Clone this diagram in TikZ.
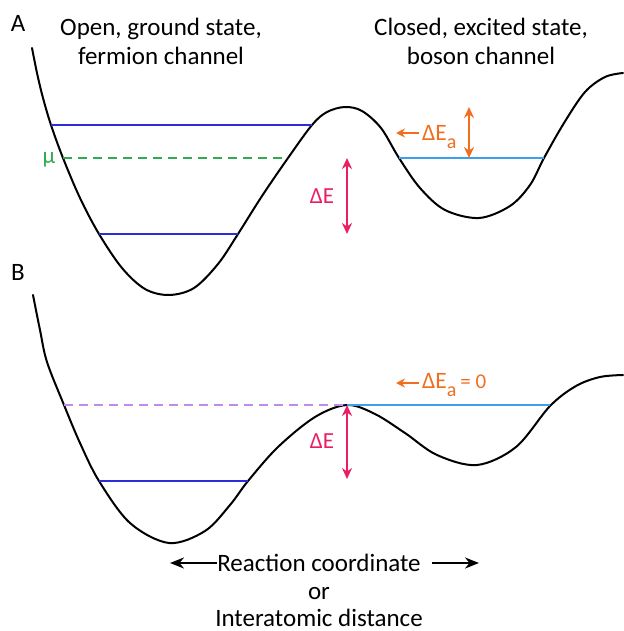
\documentclass[tikz,border=0pt]{standalone}
\usepackage{fontspec}
\setmainfont{Carlito}
\usetikzlibrary{arrows.meta}
\definecolor{lvblue}{RGB}{45,45,215}
\definecolor{ltblue}{RGB}{60,160,235}
\definecolor{mugreen}{RGB}{50,170,80}
\definecolor{eorange}{RGB}{240,110,30}
\definecolor{epink}{RGB}{235,30,100}
\definecolor{epurple}{RGB}{190,140,235}
\begin{document}
\begin{tikzpicture}[x=1pt,y=-1pt,
  curve/.style={line width=2pt, black, line cap=round},
  level/.style={line width=2pt},
  dlevel/.style={line width=1.8pt, dash pattern=on 9pt off 6pt},
  big/.style={font=\fontsize{25}{29}\selectfont, inner sep=0pt, anchor=base},
  mid/.style={font=\fontsize{23}{26}\selectfont, inner sep=0pt, anchor=base},
  small/.style={font=\fontsize{23.5}{26}\selectfont, inner sep=0pt, anchor=base west},
  dbl/.style={line width=2pt, {Stealth[length=11pt,width=10pt]}-{Stealth[length=11pt,width=10pt]}},
  sgl/.style={line width=2pt, -{Stealth[length=9pt,width=9pt]}},
  blk/.style={line width=2.2pt, -{Stealth[length=14pt,width=11pt]}}]
\useasboundingbox (0,0) rectangle (623,631);
% ---------- panel A ----------
\draw[curve] plot[smooth, tension=0.55] coordinates {
 (32,48) (37,73) (43,98) (51,125) (63,158) (80,198) (99,234) (122,268) (145,289) (169,295)
 (194,288) (218,264) (238,234) (262,196) (288,158) (312,125) (327,112) (345,107)
 (362,111) (381,128) (399,158) (420,188) (445,210) (479,218) (510,206) (530,185)
 (544,158) (564,123) (585,92) (605,77) (623,73)};
\node[big] (labA) at (18,32) {A};
\node[big] (open1) at (161,36) {Open, ground state,};
\node[big] (open2) at (161,65) {fermion channel};
\node[big] (closed1) at (481,36) {Closed, excited state,};
\node[big] (closed2) at (481,65) {boson channel};
\coordinate (a1l) at (51,125); \coordinate (a1r) at (312,125);
\coordinate (a0l) at (99,234); \coordinate (a0r) at (238,234);
\coordinate (mul) at (63,158); \coordinate (mur) at (288,158);
\coordinate (bl) at (399,158); \coordinate (br) at (544,158);
\draw[level, lvblue] (a1l) -- (a1r);
\draw[level, lvblue] (a0l) -- (a0r);
\draw[dlevel, mugreen] (mul) -- (mur);
\node[font=\fontsize{23}{26}\selectfont, inner sep=0pt, text=mugreen] (mu) at (49,160) {μ};
\draw[level, ltblue] (bl) -- (br);
\coordinate (dEt) at (347,158); \coordinate (dEb) at (347,234);
\draw[dbl, epink] (dEt) -- (dEb);
\node[mid, text=epink] (dE) at (322,203) {ΔE};
\coordinate (eat) at (469,107); \coordinate (eab) at (469,158);
\draw[dbl, eorange] (eat) -- (eab);
\node[small, text=eorange] (Ea) at (422,141) {ΔE\raisebox{-8pt}{\fontsize{20}{20}\selectfont a}};
\coordinate (eas) at (419,133); \coordinate (eaa) at (396,133);
\draw[sgl, eorange] (eas) -- (eaa);
% ---------- panel B ----------
\node[big] (labB) at (18,280) {B};
\draw[curve] plot[smooth, tension=0.55] coordinates {
 (33,295) (40,330) (47,362) (64,405) (80,443) (99,481) (130,523) (169,543) (205,531)
 (230,505) (248,481) (278,447) (315,417) (347,405) (375,414) (405,433)
 (437,455) (477,465) (516,447) (550,406) (576,386) (600,377) (623,375)};
\coordinate (pl) at (64,405); \coordinate (pk) at (347,405); \coordinate (pr) at (550,405);
\draw[dlevel, epurple] (pl) -- (pk);
\draw[level, ltblue] (pk) -- (pr);
\coordinate (b0l) at (99,481); \coordinate (b0r) at (248,481);
\draw[level, lvblue] (b0l) -- (b0r);
\coordinate (dE2b) at (347,479);
\draw[dbl, epink] (pk) -- (dE2b);
\node[mid, text=epink] (dE2) at (322,448) {ΔE};
\node[small, text=eorange] (Ea0) at (422,388) {ΔE\raisebox{-8pt}{\fontsize{20}{20}\selectfont a}\,{\fontsize{21}{21}\selectfont = 0}};
\coordinate (eas2) at (419,383); \coordinate (eaa2) at (396,383);
\draw[sgl, eorange] (eas2) -- (eaa2);
% ---------- axis ----------
\node[big] (rc) at (319,571) {Reaction coordinate};
\node[big] (or) at (319,599) {or};
\node[big] (iad) at (319,626) {Interatomic distance};
\coordinate (rcls) at (217,563); \coordinate (rcl) at (170,563);
\coordinate (rcrs) at (432,563); \coordinate (rcr) at (479,563);
\draw[blk] (rcls) -- (rcl);
\draw[blk] (rcrs) -- (rcr);
\end{tikzpicture}
\end{document}
